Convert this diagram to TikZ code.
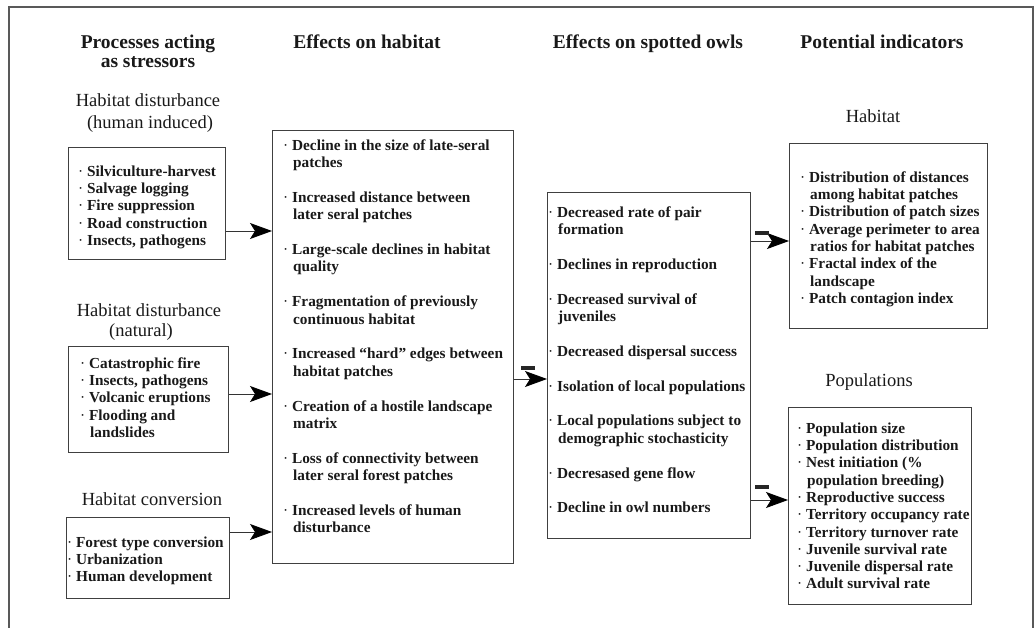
\documentclass[tikz,border=0pt]{standalone}
\usepackage{fontspec}
\setmainfont{Liberation Serif}
\usetikzlibrary{arrows.meta,calc}
\newcommand\bu{{\mdseries·}\ }
\newcommand\ci{\hspace*{10pt}}
\begin{document}
\begin{tikzpicture}[x=1pt,y=-1pt,
  hdr/.style={font=\fontsize{19.5}{21}\selectfont\bfseries, anchor=base, inner sep=0, text=black!90},
  sub/.style={font=\fontsize{18.5}{20}\selectfont, anchor=base, inner sep=0, text=black!90},
  box/.style={draw=black!75, line width=0.9pt, anchor=north west, inner sep=0},
  itemsA/.style={font=\fontsize{15.3}{17.3}\selectfont\bfseries, anchor=north west, align=left, inner sep=0, text=black!90},
  itemsB/.style={font=\fontsize{15.3}{17.4}\selectfont\bfseries, anchor=north west, align=left, inner sep=0, text=black!90},
  arr/.style={draw=black!80, line width=0.8pt, -{Stealth[length=22pt,width=16pt,inset=5pt,fill=black,color=black]}},
  minus/.style={fill=black!85, minimum width=14pt, minimum height=4pt, inner sep=0},
]
\useasboundingbox (0,0) rectangle (1035,628);
\draw[draw=black!65, line width=1.5pt] (9,628) -- (9,7) -- (1033,7) -- (1033,628);

% column headers
\node[hdr] (h1) at (148,49) {Processes acting};
\node[hdr] (h1b) at (148,68) {as stressors};
\node[hdr] (h2) at (367,49) {Effects on habitat};
\node[hdr] (h3) at (648,49) {Effects on spotted owls};
\node[hdr] (h4) at (882,49) {Potential indicators};

% sub headers
\node[sub] (s1) at (148,107) {Habitat disturbance};
\node[sub] (s1b) at (150,129) {(human induced)};
\node[sub] (s2) at (149,316) {Habitat disturbance};
\node[sub] (s2b) at (141,336) {(natural)};
\node[sub] (s3) at (152,505) {Habitat conversion};
\node[sub] (s4) at (873,123) {Habitat};
\node[sub] (s5) at (869,386) {Populations};

% boxes
\node[box, minimum width=157pt, minimum height=112pt] (b1) at (68,147) {};
\node[box, minimum width=160pt, minimum height=106pt] (b2) at (68,346) {};
\node[box, minimum width=163pt, minimum height=81pt] (b3) at (66,517) {};
\node[box, minimum width=241pt, minimum height=433pt] (he) at (272,130) {};
\node[box, minimum width=203pt, minimum height=346pt] (ow) at (547,192) {};
\node[box, minimum width=198pt, minimum height=185pt] (ih) at (789,143) {};
\node[box, minimum width=183pt, minimum height=197pt] (ip) at (788,407) {};

% box texts
\node[itemsA] (t1) at (78,163.9) {\strut\bu Silviculture-harvest\\ \bu Salvage logging\\ \bu Fire suppression\\ \bu Road construction\\ \bu Insects, pathogens};
\node[itemsA] (t2) at (80,355.9) {\strut\bu Catastrophic fire\\ \bu Insects, pathogens\\ \bu Volcanic eruptions\\ \bu Flooding and\\ \ci landslides};
\node[itemsA] (t3) at (67,534.9) {\strut\bu Forest type conversion\\ \bu Urbanization\\ \bu Human development};
\node[itemsB] (t4) at (283,137.8) {\strut\bu Decline in the size of late-seral\\ \ci patches\\[17.4pt]
 \bu Increased distance between\\ \ci later seral patches\\[17.4pt]
 \bu Large-scale declines in habitat\\ \ci quality\\[17.4pt]
 \bu Fragmentation of previously\\ \ci continuous habitat\\[17.4pt]
 \bu Increased “hard” edges between\\ \ci habitat patches\\[17.4pt]
 \bu Creation of a hostile landscape\\ \ci matrix\\[17.4pt]
 \bu Loss of connectivity between\\ \ci later seral forest patches\\[17.4pt]
 \bu Increased levels of human\\ \ci disturbance};
\node[itemsB] (t5) at (548,204.8) {\strut\bu Decreased rate of pair\\ \ci formation\\[17.4pt]
 \bu Declines in reproduction\\[17.4pt]
 \bu Decreased survival of\\ \ci juveniles\\[17.4pt]
 \bu Decreased dispersal success\\[17.4pt]
 \bu Isolation of local populations\\[17.4pt]
 \bu Local populations subject to\\ \ci demographic stochasticity\\[17.4pt]
 \bu Decresased gene flow\\[17.4pt]
 \bu Decline in owl numbers};
\node[itemsA] (t6) at (800,169.9) {\strut\bu Distribution of distances\\ \ci among habitat patches\\ \bu Distribution of patch sizes\\ \bu Average perimeter to area\\ \ci ratios for habitat patches\\ \bu Fractal index of the\\ \ci landscape\\ \bu Patch contagion index};
\node[itemsA] (t7) at (797,420.9) {\strut\bu Population size\\ \bu Population distribution\\ \bu Nest initiation (\%\\ \ci population breeding)\\ \bu Reproductive success\\ \bu Territory occupancy rate\\ \bu Territory turnover rate\\ \bu Juvenile survival rate\\ \bu Juvenile dispersal rate\\ \bu Adult survival rate};

% connectors
\coordinate (p1) at (b1.east |- 0,231);
\coordinate (p2) at (b2.east |- 0,394);
\coordinate (p3) at (b3.east |- 0,532);
\coordinate (p4) at (he.east |- 0,379);
\coordinate (p5) at (ow.east |- 0,241);
\coordinate (p6) at (ow.east |- 0,500);
\draw[arr] (p1) -- (p1 -| he.west);
\draw[arr] (p2) -- (p2 -| he.west);
\draw[arr] (p3) -- (p3 -| he.west);
\draw[arr] (p4) -- (p4 -| ow.west);
\draw[arr] (p5) -- (p5 -| ih.west);
\draw[arr] (p6) -- (p6 -| ip.west);

% minus signs
\node[minus] (m1) at (528,368) {};
\node[minus] (m2) at (762,233) {};
\node[minus] (m3) at (762,487) {};
\end{tikzpicture}
\end{document}
